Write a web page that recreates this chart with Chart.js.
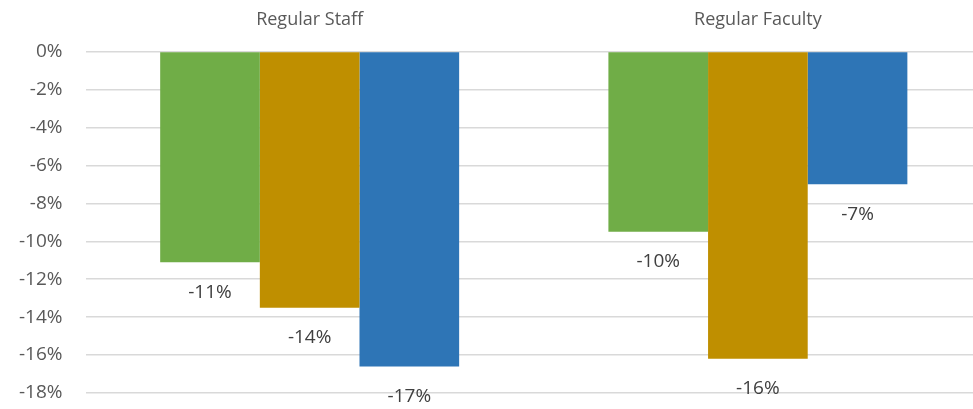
<!DOCTYPE html>
<html>
<head>
<meta charset="utf-8">
<script src="https://cdn.jsdelivr.net/npm/chart.js@4.4.0/dist/chart.umd.min.js"></script>
<style>
  html, body { margin: 0; padding: 0; background: #fff; overflow: hidden; }
  #wrap { width: 973px; height: 409px; overflow: hidden; }
</style>
</head>
<body>
<div id="wrap"><canvas id="mycanvas" width="985" height="409"></canvas></div>
<script>
var categories = ['Regular Staff', 'Regular Faculty'];
var seriesA = [-11.1, -9.5];
var seriesB = [-13.5, -16.2];
var seriesC = [-16.6, -7.0];
var valueLabels = [['-11%', '-10%'], ['-14%', '-16%'], ['-17%', '-7%']];
var yTicks = [0, -2, -4, -6, -8, -10, -12, -14, -16, -18];

var colors = ['#70AD47', '#BF8F00', '#2E75B6'];
var font = "'Open Sans', 'Noto Sans', sans-serif";

// labels under each bar end
var barLabels = {
    id: 'barLabels',
    afterDatasetsDraw: function (chart) {
        var ctx = chart.ctx;
        ctx.save();
        ctx.font = '19px ' + font;
        ctx.fillStyle = '#404040';
        ctx.textAlign = 'center';
        ctx.textBaseline = 'middle';
        chart.data.datasets.forEach(function (ds, i) {
            var meta = chart.getDatasetMeta(i);
            meta.data.forEach(function (bar, j) {
                ctx.fillText(valueLabels[i][j], bar.x, bar.y + 30);
            });
        });
        ctx.restore();
    }
};

var chartdata = {
    labels: categories,
    datasets: [
        { data: seriesA, backgroundColor: colors[0] },
        { data: seriesB, backgroundColor: colors[1] },
        { data: seriesC, backgroundColor: colors[2] }
    ]
};

new Chart(document.getElementById('mycanvas'), {
    type: 'bar',
    data: chartdata,
    plugins: [barLabels],
    options: {
        responsive: false,
        animation: false,
        layout: { padding: { top: 9, bottom: 16, left: 19, right: 3 } },
        categoryPercentage: 0.667,
        barPercentage: 1.0,
        plugins: {
            legend: { display: false },
            tooltip: { enabled: false }
        },
        scales: {
            x: {
                position: 'top',
                grid: { color: 'rgba(0,0,0,0)', drawTicks: true, tickLength: 21, tickColor: 'rgba(0,0,0,0)' },
                border: { display: false },
                ticks: {
                    padding: 0,
                    color: '#595959',
                    font: { family: font, size: 18 }
                }
            },
            y: {
                min: -18,
                max: 0,
                afterBuildTicks: function (axis) {
                    axis.ticks = yTicks.map(function (v) { return { value: v }; });
                },
                grid: { color: '#d9d9d9', lineWidth: 1.5, drawTicks: true, tickLength: 23, tickColor: 'rgba(0,0,0,0)' },
                border: { display: false },
                ticks: {
                    padding: 0,
                    color: '#595959',
                    font: { family: font, size: 19 },
                    callback: function (v) { return v + '%'; }
                }
            }
        }
    }
});
</script>
</body>
</html>
